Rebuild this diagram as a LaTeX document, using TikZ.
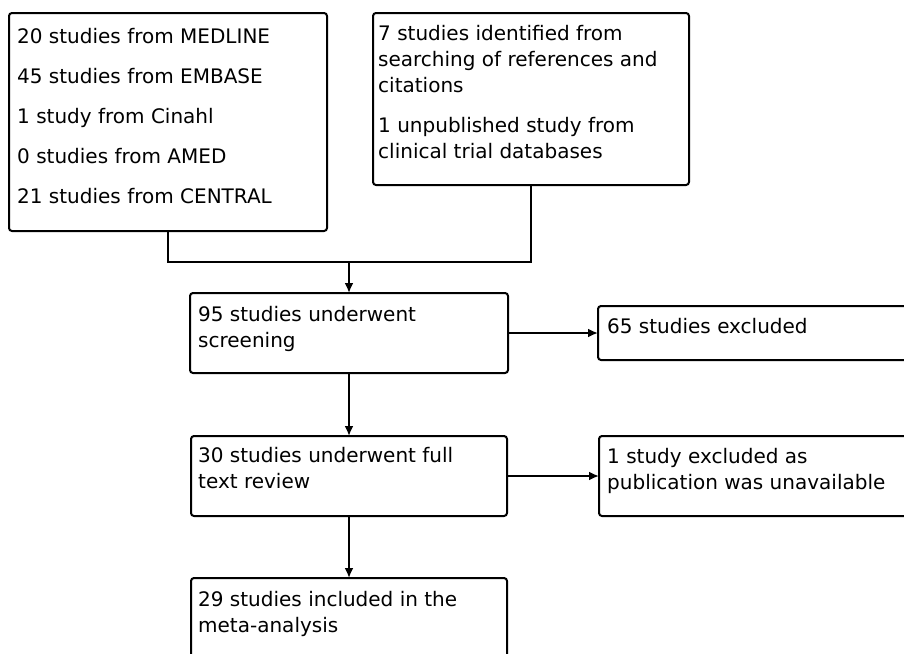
\documentclass[tikz,border=0pt]{standalone}
\usepackage{fontspec}
\setmainfont{DejaVu Sans}
\usetikzlibrary{arrows.meta}
\begin{document}
\begin{tikzpicture}[x=1pt,y=-1pt,
  box/.style={draw=black, line width=2pt, rounded corners=3pt, inner sep=0pt, outer sep=0pt, anchor=north west, fill=white},
  txt/.style={anchor=base west, inner sep=0pt, align=left, font=\fontsize{20}{26}\selectfont, text=black},
  conn/.style={draw=black, line width=2pt},
  arr/.style={conn, -{Latex[length=10pt,width=9pt]}}
]
\useasboundingbox (0,0) rectangle (904,653);
\clip (0,0) rectangle (904,653);
% boxes
\node[box, minimum width=318pt, minimum height=218pt] (b1) at (9,13) {};
\node[box, minimum width=316pt, minimum height=172pt] (b2) at (373,13) {};
\node[box, minimum width=318pt, minimum height=80pt] (b3) at (190,293) {};
\node[box, minimum width=330pt, minimum height=54pt] (b4) at (598,306) {};
\node[box, minimum width=316pt, minimum height=80pt] (b5) at (191,436) {};
\node[box, minimum width=330pt, minimum height=80pt] (b6) at (599,436) {};
\node[box, minimum width=316pt, minimum height=110pt] (b7) at (191,578) {};
% texts (anchored at the baseline of their last line)
\node[txt] (t1) at (17,203) {20 studies from MEDLINE\\[14pt]45 studies from EMBASE\\[14pt]1 study from Cinahl\\[14pt]0 studies from AMED\\[14pt]21 studies from CENTRAL};
\node[txt] (t2) at (378,158) {7 studies identified from\\searching of references and\\citations\\[14pt]1 unpublished study from\\clinical trial databases};
\node[txt] (t3) at (198,347) {95 studies underwent\\screening};
\node[txt] (t4) at (607,333) {65 studies excluded};
\node[txt] (t5) at (198,488) {30 studies underwent full\\text review};
\node[txt] (t6) at (607,489) {1 study excluded as\\publication was unavailable};
\node[txt] (t7) at (198,632) {29 studies included in the\\meta-analysis};
% connectors
\coordinate (j) at (349,262);
\draw[conn] (b1.south) |- (j) -| (b2.south);
\draw[arr] (j) -- (b3.north);
\draw[arr] (b3.east) -- (b3.east -| b4.west);
\draw[arr] (b3.south) -- (b5.north -| b3.south);
\draw[arr] (b5.east) -- (b5.east -| b6.west);
\draw[arr] (b5.south) -- (b7.north -| b5.south);
\end{tikzpicture}
\end{document}
